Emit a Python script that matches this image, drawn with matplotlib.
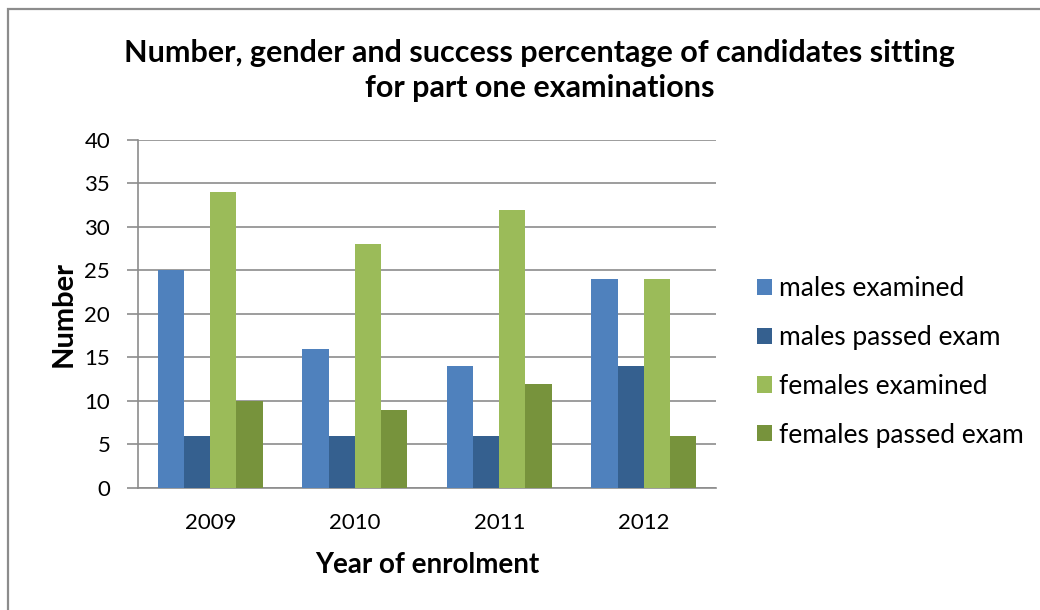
import numpy as np
import matplotlib
matplotlib.use('Agg')
import matplotlib.pyplot as plt
from matplotlib.patches import Rectangle

years = ['2009', '2010', '2011', '2012']
males_examined = [25, 16, 14, 24]
males_passed = [6, 6, 6, 14]
females_examined = [34, 28, 32, 24]
females_passed = [10, 9, 12, 6]

series_names = ['males examined', 'males passed exam', 'females examined', 'females passed exam']
series_colors = ['#4F81BD', '#35608F', '#9BBB59', '#77933C']

plt.rcParams['font.family'] = ['Lato', 'DejaVu Sans']

fig = plt.figure(figsize=(10.4, 6.1), dpi=100)
ax = fig.add_axes([0.1327, 0.2, 0.5558, 0.5705])

# outer chart border (cut off on right and bottom like the reference)
fig.patches.append(Rectangle((8 / 1040, -0.1), 1.2, 1.1 - 9 / 610, transform=fig.transFigure,
                             fill=False, edgecolor='#8c8c8c', linewidth=1.6, clip_on=False))

x = np.arange(len(years))
width = 0.181
all_series = [males_examined, males_passed, females_examined, females_passed]
for i, (vals, name, col) in enumerate(zip(all_series, series_names, series_colors)):
    ax.bar(x + (i - 1.5) * width, vals, width, color=col, label=name, zorder=3)

ax.set_xlim(-0.5, len(years) - 0.5)
ax.set_ylim(0, 40)
ax.set_yticks(range(0, 41, 5))
ax.set_xticks(x)
ax.set_xticklabels(years)
ax.yaxis.grid(True, color='#8c8c8c', linewidth=1.2, zorder=0)
ax.tick_params(axis='y', length=8, width=1.2, color='#8c8c8c', labelsize=16, pad=12)
ax.tick_params(axis='x', length=0, labelsize=16, pad=18)
for s in ['top', 'right']:
    ax.spines[s].set_visible(False)
for s in ['left', 'bottom']:
    ax.spines[s].set_color('#8c8c8c')
    ax.spines[s].set_linewidth(1.2)

ax.set_ylabel('Number', fontsize=21, fontweight='bold')
ax.yaxis.set_label_coords(-0.1055, 0.5)
ax.set_xlabel('Year of enrolment', fontsize=20, fontweight='bold')
ax.xaxis.set_label_coords(0.5, -0.185)

fig.text(0.519, 0.884, 'Number, gender and success percentage of candidates sitting\nfor part one examinations',
         ha='center', va='center', fontsize=22, fontweight='bold', linespacing=1.32)

ax.legend(loc='center left', bbox_to_anchor=(1.07, 0.362), frameon=False, fontsize=19,
          handlelength=0.57, handleheight=0.57, handletextpad=0.3, labelspacing=0.9,
          borderaxespad=0, borderpad=0)

fig.savefig('out.png', dpi=100)
